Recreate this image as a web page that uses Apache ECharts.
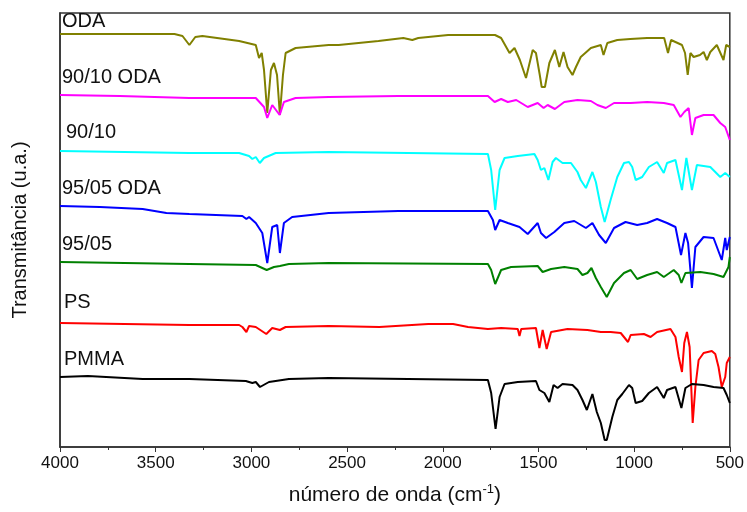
<!DOCTYPE html>
<html>

<head>
  <meta charset="utf-8">
  <title>FTIR</title>
  <script src="https://cdn.jsdelivr.net/npm/echarts@6/dist/echarts.min.js"></script>
</head>

<body style="margin:0">
  <div id="main" style="width: 747px;height:512px;"></div>
  <script type="text/javascript">
    // espectros: [numero de onda, transmitancia deslocada (u.a.)]
    var oda = [[4000, 413], [3402, 413], [3360, 411], [3324, 402], [3293, 410], [3256, 411], [3064, 406],
      [2977, 402], [2960, 389], [2946, 394], [2934, 377], [2917, 334], [2898, 377], [2882, 384], [2866, 372],
      [2851, 332], [2835, 372], [2821, 394], [2769, 399], [2596, 402], [2544, 402], [2336, 406], [2206, 409],
      [2159, 407], [2128, 409], [1972, 412], [1727, 412], [1695, 409], [1651, 394], [1625, 399], [1597, 387],
      [1565, 369], [1530, 397], [1513, 394], [1493, 372], [1483, 360], [1466, 360], [1443, 384], [1414, 397],
      [1391, 380], [1369, 395], [1348, 380], [1322, 372], [1304, 380], [1279, 390], [1226, 399], [1174, 402],
      [1160, 392], [1140, 404], [1088, 407], [1020, 408], [932, 409], [843, 409], [823, 394], [807, 407],
      [750, 402], [734, 394], [720, 372], [706, 394], [689, 390], [656, 392], [637, 395], [620, 387],
      [602, 395], [568, 402], [533, 387], [519, 402], [500, 400]];

    var oda9010 = [[4000, 352], [3688, 351], [3324, 349], [2977, 349], [2934, 340], [2917, 329], [2891, 342],
      [2852, 332], [2830, 345], [2769, 349], [2596, 350], [2232, 351], [1764, 351], [1729, 345], [1695, 348],
      [1660, 345], [1616, 347], [1556, 340], [1504, 344], [1473, 339], [1452, 342], [1414, 338], [1365, 345],
      [1296, 347], [1226, 346], [1192, 342], [1148, 339], [1105, 344], [1018, 344], [932, 345], [845, 344],
      [793, 342], [758, 330], [738, 335], [715, 339], [698, 312], [680, 329], [637, 332], [585, 332],
      [550, 324], [524, 320], [500, 307]];

    var b9010 = [[4000, 296], [3324, 294], [3064, 294], [3012, 291], [2995, 288], [2977, 290], [2956, 284],
      [2934, 289], [2873, 294], [2596, 295], [1764, 293], [1747, 277], [1726, 237], [1703, 277], [1677, 289],
      [1608, 291], [1521, 293], [1504, 287], [1487, 277], [1469, 279], [1448, 267], [1426, 285], [1409, 289],
      [1374, 284], [1330, 284], [1296, 275], [1279, 267], [1252, 259], [1218, 275], [1200, 265], [1174, 240],
      [1154, 225], [1123, 247], [1088, 270], [1053, 284], [1027, 285], [1010, 280], [992, 267], [958, 270],
      [923, 280], [880, 285], [845, 274], [828, 284], [784, 287], [750, 257], [727, 289], [698, 257],
      [672, 282], [602, 280], [550, 270], [524, 274], [500, 270]];

    var oda9505 = [[4000, 241], [3792, 240], [3568, 238], [3444, 234], [3324, 233], [3047, 231], [3026, 228],
      [3012, 230], [2977, 224], [2943, 214], [2917, 184], [2891, 220], [2865, 222], [2851, 194], [2830, 224],
      [2787, 230], [2596, 234], [2232, 236], [1764, 236], [1738, 227], [1726, 217], [1703, 227], [1660, 224],
      [1599, 220], [1556, 213], [1504, 224], [1487, 214], [1460, 209], [1417, 215], [1365, 224], [1313, 226],
      [1252, 219], [1218, 224], [1183, 212], [1148, 204], [1105, 219], [1045, 225], [984, 222], [932, 224],
      [880, 228], [828, 224], [784, 220], [755, 192], [732, 214], [718, 204], [698, 159], [680, 200],
      [637, 210], [585, 209], [542, 187], [524, 209], [516, 197], [500, 210]];

    var b9505 = [[4000, 185], [3324, 183], [2977, 182], [2920, 177], [2882, 180], [2851, 181], [2804, 183],
      [2596, 184], [1764, 183], [1747, 177], [1726, 163], [1695, 177], [1643, 180], [1504, 181], [1478, 175],
      [1434, 178], [1365, 180], [1296, 178], [1270, 172], [1244, 174], [1223, 179], [1200, 169], [1174, 160],
      [1143, 150], [1105, 164], [1053, 174], [1018, 177], [984, 168], [932, 172], [880, 175], [845, 170],
      [793, 177], [767, 172], [753, 164], [732, 174], [654, 175], [585, 173], [533, 170], [507, 180], [500, 190]];

    var ps = [[4000, 124], [3324, 122], [3064, 122], [3047, 120], [3026, 115], [3012, 121], [2977, 120],
      [2922, 113], [2891, 119], [2851, 117], [2821, 120], [2596, 121], [2331, 120], [2076, 123], [1946, 123],
      [1868, 120], [1764, 118], [1695, 119], [1608, 118], [1599, 111], [1590, 118], [1513, 119], [1495, 99],
      [1478, 117], [1457, 98], [1434, 115], [1348, 118], [1244, 117], [1174, 115], [1123, 115], [1070, 114],
      [1032, 105], [1018, 112], [949, 113], [914, 110], [880, 115], [810, 118], [784, 110], [767, 90],
      [750, 75], [738, 104], [724, 115], [710, 100], [694, 24], [680, 60], [663, 87], [637, 94], [594, 96],
      [576, 93], [559, 80], [542, 60], [524, 70], [516, 84], [500, 90]];

    var pmma = [[4000, 70], [3854, 71], [3568, 68], [3324, 68], [3029, 66], [2995, 64], [2977, 65], [2955, 60],
      [2908, 65], [2804, 68], [2596, 69], [1764, 67], [1747, 54], [1724, 18], [1703, 50], [1677, 63],
      [1608, 65], [1513, 66], [1495, 57], [1469, 54], [1443, 45], [1421, 62], [1400, 59], [1374, 63],
      [1322, 62], [1296, 57], [1270, 47], [1247, 37], [1218, 53], [1195, 35], [1174, 24], [1154, 7],
      [1143, 7], [1114, 30], [1088, 47], [1062, 53], [1027, 62], [1010, 59], [992, 44], [958, 46], [923, 54],
      [880, 60], [845, 49], [828, 57], [784, 60], [753, 39], [732, 59], [698, 63], [637, 62], [585, 60],
      [533, 59], [516, 52], [500, 44]];

    var names = ['ODA', '90/10 ODA', '90/10', '95/05 ODA', '95/05', 'PS', 'PMMA'];
    var spectra = [oda, oda9010, b9010, oda9505, b9505, ps, pmma];
    var colors = ['#808000', '#ff00ff', '#00ffff', '#0000ff', '#008000', '#ff0000', '#000000'];
    var xTicks = [4000, 3500, 3000, 2500, 2000, 1500, 1000, 500];

    // posicao dos rotulos de cada curva (px)
    var labelPos = [[62, 22], [62, 78], [66, 133], [62, 189], [62, 245], [64, 303], [64, 360]];

    var myChart = echarts.init(document.getElementById('main'));

    var option = {
      animation: false,
      grid: { left: 60, right: 14, top: 13, bottom: 65, show: true, borderColor: '#333', borderWidth: 1.5 },
      xAxis: {
        type: 'value',
        inverse: true,
        min: xTicks[xTicks.length - 1],
        max: xTicks[0],
        interval: 500,
        splitLine: { show: false },
        axisLine: { lineStyle: { color: '#333', width: 1.5 } },
        axisTick: { length: 5, lineStyle: { color: '#333' } },
        minorTick: { show: true, splitNumber: 2, length: 3, lineStyle: { color: '#333' } },
        axisLabel: {
          color: '#111', fontSize: 17, fontFamily: 'Liberation Sans', margin: 8,
          formatter: function (v) { return String(v); }
        },
        name: '{a|número de onda (cm}{s|-1}{a|)}',
        nameLocation: 'middle',
        nameGap: 36,
        nameTextStyle: {
          rich: {
            a: { fontSize: 21, fontFamily: 'Liberation Sans', color: '#111' },
            s: { fontSize: 13, fontFamily: 'Liberation Sans', color: '#111', padding: [0, 0, 12, 0] }
          }
        }
      },
      yAxis: {
        type: 'value',
        min: 0,
        max: 434,
        splitLine: { show: false },
        axisLabel: { show: false },
        axisTick: { show: false },
        axisLine: { show: true, lineStyle: { color: '#333', width: 1.5 } },
        name: 'Transmitância (u.a.)',
        nameLocation: 'middle',
        nameGap: 30,
        nameTextStyle: { fontSize: 20, fontFamily: 'Liberation Sans', color: '#111' }
      },
      series: spectra.map(function (d, i) {
        return {
          type: 'line',
          name: names[i],
          data: d,
          showSymbol: false,
          lineStyle: { color: colors[i], width: 2 },
          z: 2 + i
        };
      }),
      graphic: names.map(function (n, i) {
        return {
          type: 'text',
          left: labelPos[i][0],
          top: labelPos[i][1] - 11,
          style: { text: n, font: '20px "Liberation Sans"', fill: '#111' },
          z: 20
        };
      })
    };

    myChart.setOption(option);
  </script>
</body>

</html>
